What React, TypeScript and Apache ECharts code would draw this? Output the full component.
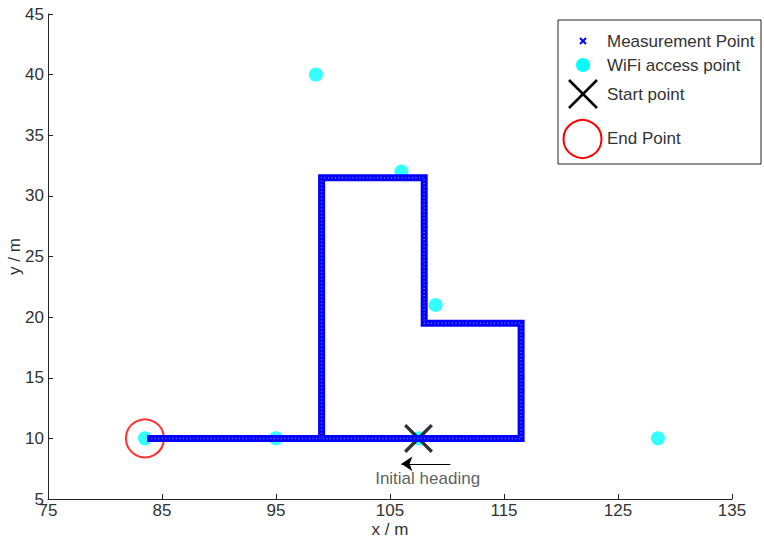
import React, { useEffect, useRef } from "react";
import * as echarts from "echarts";

// Walked path (corner points of the measurement trajectory), metres
const pathX = [107.5, 99, 99, 108, 108, 116.5, 116.5, 84];
const pathY = [10, 10, 31.5, 31.5, 19.5, 19.5, 10, 10];

// WiFi access points
const wifiX = [83.5, 95, 98.5, 106, 109, 107.5, 128.5];
const wifiY = [10, 10, 40, 32, 21, 10, 10];

const startPoint = [107.5, 10];
const endPoint = [83.5, 10];

// Initial heading arrow (from -> to) and label position
const headingFrom = [110.3, 7.9];
const headingTo = [106.0, 7.9];
const headingLabelPos = [108.3, 6.65];

const xTicks = { min: 75, max: 135, interval: 10 };
const yTicks = { min: 5, max: 45, interval: 5 };

const FONT = "'Liberation Sans', Arial, Helvetica, sans-serif";
const CROSS =
  "path://M0,2.5L2.5,0L15,12.5L27.5,0L30,2.5L17.5,15L30,27.5L27.5,30L15,17.5L2.5,30L0,27.5L12.5,15Z";

export default function App() {
  const ref = useRef<HTMLDivElement>(null);
  useEffect(() => {
    if (!ref.current) return;
    const chart = echarts.init(ref.current, undefined, { renderer: "svg" });
    const pathData = pathX.map((x, i) => [x, pathY[i]]);
    const wifiData = wifiX.map((x, i) => [x, wifiY[i]]);
    const axisCommon = {
      axisLine: { show: true, lineStyle: { color: "#222", width: 1 } },
      axisTick: { show: true, inside: true, length: 5, lineStyle: { color: "#222" } },
      splitLine: { show: false },
      axisLabel: { color: "#333", fontSize: 17, fontFamily: FONT },
      nameTextStyle: { color: "#333", fontSize: 17, fontFamily: FONT },
      nameMoveOverlap: false,
    };
    const lx = 583;
    chart.setOption({
      animation: false,
      backgroundColor: "#fff",
      grid: {
        left: 48,
        right: 32,
        top: 14,
        bottom: 39,
        containLabel: false,
        outerBoundsMode: "none",
      },
      xAxis: {
        type: "value",
        ...xTicks,
        name: "x / m",
        nameLocation: "middle",
        nameGap: 22,
        ...axisCommon,
        axisLabel: { ...axisCommon.axisLabel, margin: 3 },
      },
      yAxis: {
        type: "value",
        ...yTicks,
        name: "y / m",
        nameLocation: "middle",
        nameGap: 25,
        ...axisCommon,
        axisLabel: { ...axisCommon.axisLabel, margin: 4 },
      },
      series: [
        {
          name: "Measurement Point",
          type: "line",
          data: pathData,
          showSymbol: false,
          lineStyle: { color: "#0000ff", width: 7, cap: "square", join: "miter" },
          silent: true,
        },
        {
          name: "Measurement texture",
          type: "line",
          data: pathData,
          showSymbol: false,
          lineStyle: { color: "rgba(200,200,255,0.55)", width: 1.5, type: [1, 2.5] },
          silent: true,
        },
        {
          name: "WiFi access point",
          type: "scatter",
          data: wifiData,
          symbol: "circle",
          symbolSize: 14,
          itemStyle: { color: "#00ffff" },
          silent: true,
        },
        {
          name: "Start point",
          type: "scatter",
          data: [startPoint],
          symbol: CROSS,
          symbolSize: 29,
          itemStyle: { color: "#000" },
          silent: true,
        },
        {
          name: "End Point",
          type: "scatter",
          data: [endPoint],
          symbol: "circle",
          symbolSize: 38,
          itemStyle: { color: "rgba(0,0,0,0)", borderColor: "#ff0000", borderWidth: 2 },
          silent: true,
        },
        {
          name: "Initial heading",
          type: "scatter",
          data: [headingLabelPos],
          symbolSize: 0,
          silent: true,
          label: {
            show: true,
            position: "inside",
            formatter: "Initial heading",
            color: "#333",
            fontSize: 17,
            fontFamily: FONT,
          },
          markLine: {
            silent: true,
            symbol: ["none", "arrow"],
            symbolSize: 11,
            label: { show: false },
            lineStyle: { color: "#000", width: 1, type: "solid" },
            data: [[{ coord: headingFrom }, { coord: headingTo }]],
          },
        },
      ],
      graphic: [
        {
          type: "rect",
          shape: { x: 558, y: 20, width: 203, height: 144 },
          style: { fill: "#fff", stroke: "#222", lineWidth: 1 },
        },
        {
          type: "line",
          shape: { x1: lx - 3, y1: 38, x2: lx + 3, y2: 44 },
          style: { stroke: "#0000ff", lineWidth: 2 },
        },
        {
          type: "line",
          shape: { x1: lx + 3, y1: 38, x2: lx - 3, y2: 44 },
          style: { stroke: "#0000ff", lineWidth: 2 },
        },
        { type: "circle", shape: { cx: lx, cy: 65, r: 7 }, style: { fill: "#00ffff" } },
        {
          type: "line",
          shape: { x1: lx - 14, y1: 80, x2: lx + 14, y2: 108 },
          style: { stroke: "#000", lineWidth: 2.5 },
        },
        {
          type: "line",
          shape: { x1: lx + 14, y1: 80, x2: lx - 14, y2: 108 },
          style: { stroke: "#000", lineWidth: 2.5 },
        },
        {
          type: "circle",
          shape: { cx: 582.5, cy: 139, r: 19 },
          style: { fill: "none", stroke: "#ff0000", lineWidth: 2 },
        },
        ...[
          ["Measurement Point", 41],
          ["WiFi access point", 65],
          ["Start point", 94],
          ["End Point", 138],
        ].map(([t, y]) => ({
          type: "text",
          x: 607,
          y: y as number,
          style: {
            text: t as string,
            fill: "#333",
            fontSize: 17,
            fontFamily: FONT,
            textVerticalAlign: "middle",
            verticalAlign: "middle",
          },
        })),
      ],
    });
    return () => chart.dispose();
  }, []);
  return (
    <div
      ref={ref}
      style={{ position: "fixed", left: 0, top: 0, width: 764, height: 538 }}
    />
  );
}
